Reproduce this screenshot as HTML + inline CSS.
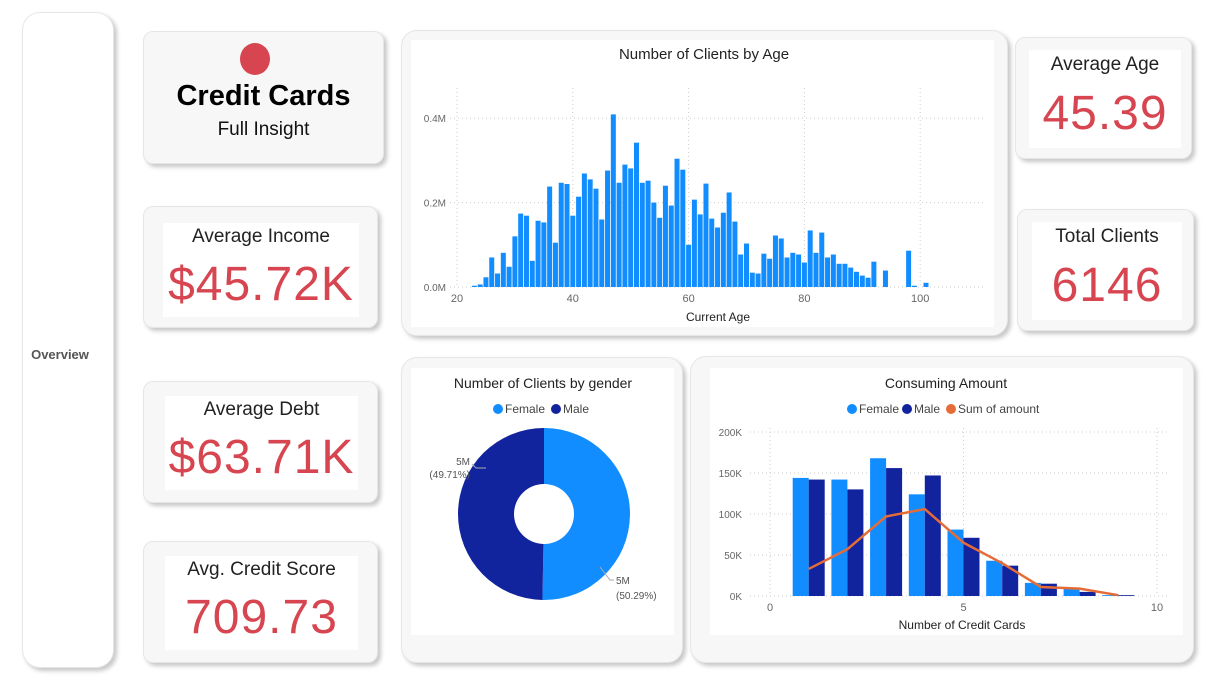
<!DOCTYPE html>
<html><head><meta charset="utf-8"><style>
body{margin:0;width:1205px;height:676px;background:#fff;position:relative;overflow:hidden;font-family:"Liberation Sans",sans-serif}
.card{position:absolute;background:#f7f7f7;border:1px solid #e6e6e6;border-radius:10px;box-shadow:3px 3px 4px rgba(0,0,0,0.22)}
.inner{position:absolute;background:#fff}
.kt{position:absolute;left:0;right:0;text-align:center;color:#222;font-size:19px}
.kv{position:absolute;left:0;right:0;text-align:center;color:#d64550;font-size:48px;letter-spacing:1px}
svg{position:absolute;left:0;top:0}
</style></head><body>
<div class="card" style="left:22px;top:12px;width:90px;height:654px;border-radius:18px;background:#fff"></div>
<div style="position:absolute;left:22px;top:347px;width:76px;text-align:center;font-size:13px;font-weight:bold;color:#555">Overview</div>
<div class="card" style="left:143px;top:31px;width:239px;height:131px">
 <div style="position:absolute;left:96px;top:11px;width:30px;height:32px;border-radius:50%;background:#d64550"></div>
 <div style="position:absolute;left:0;right:0;top:48px;text-align:center;font-size:29px;font-weight:bold;color:#000">Credit Cards</div>
 <div style="position:absolute;left:0;right:0;top:87px;text-align:center;font-size:19px;color:#111">Full Insight</div>
</div>
<div class="card" style="left:143px;top:206px;width:233px;height:120px"><div class="inner" style="left:19px;top:16px;width:196px;height:94px"><div class="kt" style="top:3px">Average Income</div><div class="kv" style="top:34px">$45.72K</div></div></div>
<div class="card" style="left:143px;top:381px;width:233px;height:120px"><div class="inner" style="left:21px;top:14px;width:193px;height:94px"><div class="kt" style="top:3px">Average Debt</div><div class="kv" style="top:34px">$63.71K</div></div></div>
<div class="card" style="left:143px;top:541px;width:233px;height:120px"><div class="inner" style="left:21px;top:14px;width:193px;height:94px"><div class="kt" style="top:3px">Avg. Credit Score</div><div class="kv" style="top:34px">709.73</div></div></div>
<div class="card" style="left:1015px;top:37px;width:175px;height:120px"><div class="inner" style="left:13px;top:12px;width:152px;height:98px"><div class="kt" style="top:4px">Average Age</div><div class="kv" style="top:36px">45.39</div></div></div>
<div class="card" style="left:1017px;top:209px;width:175px;height:120px"><div class="inner" style="left:14px;top:12px;width:150px;height:98px"><div class="kt" style="top:4px">Total Clients</div><div class="kv" style="top:36px">6146</div></div></div>
<div class="card" style="left:401px;top:30px;width:605px;height:304px;border-radius:16px"><div class="inner" style="left:9px;top:9px;width:583px;height:287px"></div></div>
<div class="card" style="left:401px;top:357px;width:280px;height:304px;border-radius:16px"><div class="inner" style="left:9px;top:10px;width:263px;height:267px"></div></div>
<div class="card" style="left:690px;top:356px;width:502px;height:305px;border-radius:16px"><div class="inner" style="left:19px;top:11px;width:473px;height:267px"></div></div>
<svg id="s" width="1205" height="676" font-family="Liberation Sans, sans-serif"></svg>
<script>
const ages=[23,24,25,26,27,28,29,30,31,32,33,34,35,36,37,38,39,40,41,42,43,44,45,46,47,48,49,50,51,52,53,54,55,56,57,58,59,60,61,62,63,64,65,66,67,68,69,70,71,72,73,74,75,76,77,78,79,80,81,82,83,84,85,86,87,88,89,90,91,92,94,98,99,101];
const ageCounts=[0.003,0.006,0.023,0.07,0.032,0.081,0.048,0.12,0.174,0.169,0.062,0.157,0.153,0.238,0.105,0.247,0.244,0.169,0.214,0.269,0.255,0.233,0.16,0.276,0.409,0.247,0.29,0.281,0.342,0.247,0.252,0.2,0.164,0.24,0.193,0.304,0.278,0.1,0.207,0.172,0.245,0.162,0.141,0.176,0.224,0.155,0.077,0.103,0.034,0.032,0.079,0.067,0.122,0.115,0.07,0.081,0.077,0.058,0.134,0.081,0.129,0.07,0.077,0.055,0.055,0.046,0.036,0.027,0.022,0.06,0.039,0.086,0.003,0.01];
const ageXTicks=[20,40,60,80,100];
const ageYTicks=[0,0.2,0.4];
const genderLabels=["Female","Male"];
const genderValues=[50.29,49.71];
const cards=[1,2,3,4,5,6,7,8,9];
const femaleAmt=[144,142,168,124,81,43,16,10,1];
const maleAmt=[142,130,156,147,71,37,15,5,1];
const sumAmt=[33,57,97,106,65,40,11,9,1];
const cardXTicks=[0,5,10];
const cardYTicks=[0,50,100,150,200];
const S=document.getElementById('s');const NS='http://www.w3.org/2000/svg';
function mk(t,a,txt){const e=document.createElementNS(NS,t);for(const k in a)e.setAttribute(k,a[k]);if(txt!=null)e.textContent=txt;S.appendChild(e);return e;}
// histogram
const hx=a=>457+(a-20)*5.79, hy=v=>287-v*422;
let e;
e=mk('text',{x:704,y:59,'text-anchor':'middle','font-size':15,fill:'#222'},'Number of Clients by Age');

ageYTicks.forEach(t=>{e=mk('line',{x1:450,x2:985,y1:hy(t),y2:hy(t),stroke:'#ccc','stroke-dasharray':'1,3'});
e=mk('text',{x:446,y:hy(t)+4,'text-anchor':'end','font-size':10,fill:'#666'},t.toFixed(1)+'M');});
ageXTicks.forEach(t=>{e=mk('line',{x1:hx(t),x2:hx(t),y1:88,y2:287,stroke:'#ccc','stroke-dasharray':'1,3'});
e=mk('text',{x:hx(t),y:302,'text-anchor':'middle','font-size':11,fill:'#666'},t);});
ages.forEach((a,i)=>{e=mk('rect',{x:hx(a)-2.5,y:hy(ageCounts[i]),width:5,height:ageCounts[i]*422,fill:'#118DFF'});});
e=mk('text',{x:718,y:321,'text-anchor':'middle','font-size':12,fill:'#222'},'Current Age');
// donut
e=mk('text',{x:543,y:388,'text-anchor':'middle','font-size':14,fill:'#222'},'Number of Clients by gender');
[['#118DFF',498,'Female'],['#12239E',556,'Male']].forEach(([c,x,l])=>{e=mk('circle',{cx:x,cy:409,r:5,fill:c});
e=mk('text',{x:x+7,y:413,'font-size':12,fill:'#444'},l);});
const cx=544,cy=514,R=86,r=30;let tot=genderValues.reduce((a,b)=>a+b,0),ang=0;const cols=['#118DFF','#12239E'];
genderValues.forEach((v,i)=>{const a0=ang,a1=ang+v/tot*2*Math.PI;ang=a1;const p=(a,rr)=>[cx+rr*Math.sin(a),cy-rr*Math.cos(a)];const lg=(a1-a0)>Math.PI?1:0;
const [x0,y0]=p(a0,R),[x1,y1]=p(a1,R),[x2,y2]=p(a1,r),[x3,y3]=p(a0,r);
e=mk('path',{d:`M${x0},${y0}A${R},${R} 0 ${lg} 1 ${x1},${y1}L${x2},${y2}A${r},${r} 0 ${lg} 0 ${x3},${y3}Z`,fill:cols[i]});});
e=mk('polyline',{points:'486,468 476,468 472,464',fill:'none',stroke:'#aaa'});
e=mk('text',{x:470,y:465,'text-anchor':'end','font-size':10,fill:'#555'},'5M');
e=mk('text',{x:470,y:478,'text-anchor':'end','font-size':10,fill:'#555'},'('+genderValues[1].toFixed(2)+'%)');
e=mk('polyline',{points:'600,567 610,580 614,580',fill:'none',stroke:'#aaa'});
e=mk('text',{x:616,y:584,'font-size':10,fill:'#555'},'5M');
e=mk('text',{x:616,y:599,'font-size':10,fill:'#555'},'('+genderValues[0].toFixed(2)+'%)');
// consuming
const bx=c=>770+c*38.7, by=v=>596-v*0.82;
e=mk('text',{x:946,y:388,'text-anchor':'middle','font-size':14,fill:'#222'},'Consuming Amount');
[['#118DFF',852,'Female'],['#12239E',907,'Male'],['#E66C37',951,'Sum of amount']].forEach(([c,x,l])=>{e=mk('circle',{cx:x,cy:409,r:5,fill:c});
e=mk('text',{x:x+7,y:413,'font-size':12,fill:'#444'},l);});
cardYTicks.forEach(t=>{e=mk('line',{x1:750,x2:1170,y1:by(t),y2:by(t),stroke:'#ccc','stroke-dasharray':'1,3'});
e=mk('text',{x:742,y:by(t)+4,'text-anchor':'end','font-size':10,fill:'#666'},t+'K');});
cardXTicks.forEach(t=>{e=mk('line',{x1:bx(t),x2:bx(t),y1:428,y2:596,stroke:'#ccc','stroke-dasharray':'1,3'});
e=mk('text',{x:bx(t),y:611,'text-anchor':'middle','font-size':11,fill:'#666'},t);});
cards.forEach((c,i)=>{e=mk('rect',{x:bx(c)-16,y:by(femaleAmt[i]),width:16,height:femaleAmt[i]*0.82,fill:'#118DFF'});
e=mk('rect',{x:bx(c),y:by(maleAmt[i]),width:16,height:maleAmt[i]*0.82,fill:'#12239E'});});
e=mk('polyline',{points:cards.map((c,i)=>bx(c)+','+by(sumAmt[i])).join(' '),fill:'none',stroke:'#E66C37','stroke-width':2.5});
e=mk('text',{x:962,y:629,'text-anchor':'middle','font-size':12,fill:'#222'},'Number of Credit Cards');
</script>
</body></html>
